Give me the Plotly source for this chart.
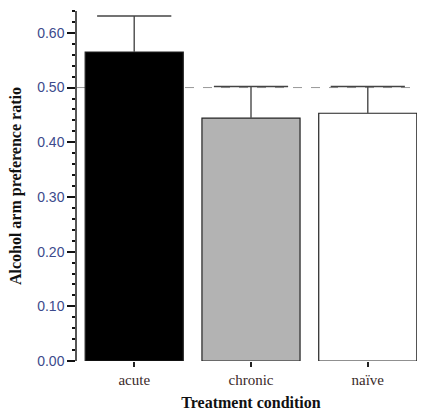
import plotly.graph_objects as go

categories = ["acute", "chronic", "naïve"]
means = [0.565, 0.444, 0.453]
errors = [0.066, 0.058, 0.049]
bar_colors = ["#000000", "#b3b3b3", "#ffffff"]
y_ticks = [0.0, 0.1, 0.2, 0.3, 0.4, 0.5, 0.6]
y_tick_labels = ["0.00", "0.10", "0.20", "0.30", "0.40", "0.50", "0.60"]
reference_level = 0.5

upper = [m + e for m, e in zip(means, errors)]

fig = go.Figure()
fig.add_trace(go.Bar(
    x=categories, y=means, width=0.84,
    marker=dict(color=bar_colors, line=dict(color="#222222", width=1.2)),
))
# upper error bars: stem from mean up to mean+error, with a cap marker on top
fig.add_trace(go.Scatter(
    x=categories, y=upper, mode="markers",
    marker=dict(symbol="line-ew", size=53, color="#555555",
                line=dict(color="#444444", width=1.5)),
    error_y=dict(type="data", array=[0] * len(errors), arrayminus=errors,
                 symmetric=False, width=0, thickness=1.5, color="#555555"),
))
fig.add_shape(type="line", xref="paper", yref="y", x0=0, x1=1,
              y0=reference_level, y1=reference_level, layer="below",
              line=dict(color="#999999", width=1, dash="dash"))

font_serif = "Liberation Serif"
font_sans = "Liberation Sans"
fig.add_annotation(
    text="<b>Alcohol arm preference ratio</b>", textangle=-90,
    xref="paper", yref="paper", x=-0.175, y=0.5,
    xanchor="center", yanchor="middle", showarrow=False,
    font=dict(family=font_serif, size=16, color="#111111"),
)
fig.update_layout(
    width=417, height=405,
    margin=dict(l=69, r=0, t=3, b=52),
    plot_bgcolor="white", paper_bgcolor="white",
    showlegend=False,
    font=dict(family=font_serif, size=14, color="#222222"),
    xaxis=dict(
        range=[-0.49, 2.49], showline=False, showgrid=False, zeroline=False,
        automargin=False,
        ticks="outside", ticklen=5, tickwidth=2, tickcolor="#222222",
        tickfont=dict(family=font_serif, size=15, color="#3a2a2a"),
        title=dict(text="<b>Treatment condition</b>", standoff=9,
                   font=dict(family=font_serif, size=16, color="#111111")),
    ),
    yaxis=dict(
        range=[0, 0.64], showline=True, linecolor="#555555", linewidth=1.5,
        showgrid=False, zeroline=False, automargin=False,
        tickvals=y_ticks, ticktext=y_tick_labels,
        ticks="outside", ticklen=8, tickwidth=2, tickcolor="#111111",
        minor=dict(dtick=0.02, tick0=0, ticks="outside", ticklen=3, tickwidth=2, tickcolor="#111111"),
        tickfont=dict(family=font_sans, size=14, color="#3c4a8c"),
    ),
)
fig.write_html("out.html")
